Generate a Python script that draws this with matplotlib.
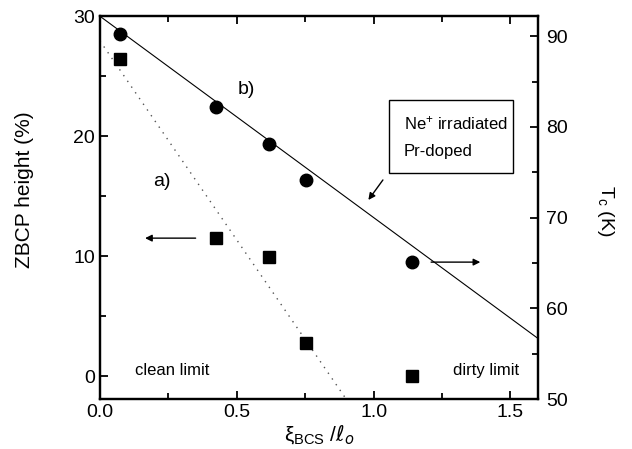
import numpy as np
import matplotlib.pyplot as plt
from matplotlib.ticker import MultipleLocator
from matplotlib.patches import Rectangle

plt.rcParams['font.family'] = ['Liberation Sans', 'DejaVu Sans']
plt.rcParams['mathtext.default'] = 'regular'

# data
xi = [0.074, 0.426, 0.618, 0.754, 1.14]
zbcp = [26.4, 11.5, 9.9, 2.75, 0.0]      # squares, left axis
tc = [90.2, 82.2, 78.1, 74.1, 65.1]      # circles, right axis

fit_a_x = [0.0, 0.90]        # dotted line a)
fit_a_z = [27.95, -1.92]
fit_b_x = [0.0, 1.6]         # solid line b)
fit_b_tc = [92.2, 56.7]

fig = plt.figure(figsize=(6.32, 4.49), dpi=100)
ax = fig.add_axes([0.158, 0.111, 0.693, 0.853])
ax2 = ax.twinx()

ax.plot(fit_a_x, fit_a_z, color='#555555', lw=1.0, dashes=(1, 4))
ax.plot(xi, zbcp, 's', color='k', ms=9)
ax2.plot(fit_b_x, fit_b_tc, color='k', lw=0.8)
ax2.plot(xi, tc, 'o', color='k', ms=9)

ax.set_xlim(0, 1.6)
ax.set_ylim(-1.92, 30)
ax2.set_ylim(50, 92.2)

ax.xaxis.set_major_locator(MultipleLocator(0.5))
ax.xaxis.set_minor_locator(MultipleLocator(0.25))
ax.yaxis.set_major_locator(MultipleLocator(10))
ax.yaxis.set_minor_locator(MultipleLocator(5))
ax2.yaxis.set_major_locator(MultipleLocator(10))
ax2.yaxis.set_minor_locator(MultipleLocator(5))

ax.tick_params(which='both', direction='in', top=True, right=False, labelsize=14, width=1.3)
ax.tick_params(which='major', length=6)
ax.tick_params(which='minor', length=4)
ax2.tick_params(which='both', direction='in', labelsize=14, width=1.3, pad=6)
ax2.tick_params(which='major', length=6)
ax2.tick_params(which='minor', length=4)
ax.xaxis.set_major_formatter(plt.FuncFormatter(lambda v, p: '%.1f' % v))

for a in (ax, ax2):
    for s in a.spines.values():
        s.set_linewidth(1.6)

ax.set_ylabel('ZBCP height (%)', fontsize=15, ha='center', va='center', rotation_mode='default')
ax.yaxis.set_label_coords(-0.172, 0.546)
ax2.set_ylabel('T$_c$ (K)', fontsize=14, rotation=270, ha='center', va='center',
               rotation_mode='default')
ax2.yaxis.set_label_coords(1.154, 0.493)
ax.set_xlabel(r'$\xi_{BCS}$ /$\it{\ell_o}$', fontsize=15, labelpad=2)

ax.text(0.537, 23.9, 'b)', fontsize=14, ha='center', va='center')
ax.text(0.228, 16.2, 'a)', fontsize=14, ha='center', va='center')
ax.text(0.13, 0.1, 'clean limit', fontsize=12)
ax.text(1.29, 0.1, 'dirty limit', fontsize=12)

ax.add_patch(Rectangle((1.055, 16.9), 0.456, 6.1, fc='white', ec='k', lw=1.0, zorder=3))
ax.text(1.11, 19.95, 'Ne$^{+}$ irradiated\nPr-doped', fontsize=12, linespacing=2.0,
        va='center', ha='left', zorder=4)

ax.annotate('', xy=(0.155, 11.5), xytext=(0.36, 11.5),
            arrowprops=dict(arrowstyle='-|>', color='k', lw=1.0, mutation_scale=10))
ax2.annotate('', xy=(1.40, 65.1), xytext=(1.20, 65.1),
             arrowprops=dict(arrowstyle='-|>', color='k', lw=1.0, mutation_scale=10))
ax2.annotate('', xy=(0.975, 71.7), xytext=(1.04, 74.4),
             arrowprops=dict(arrowstyle='-|>', color='k', lw=1.0, mutation_scale=10))

fig.savefig('out.png', dpi=100)
